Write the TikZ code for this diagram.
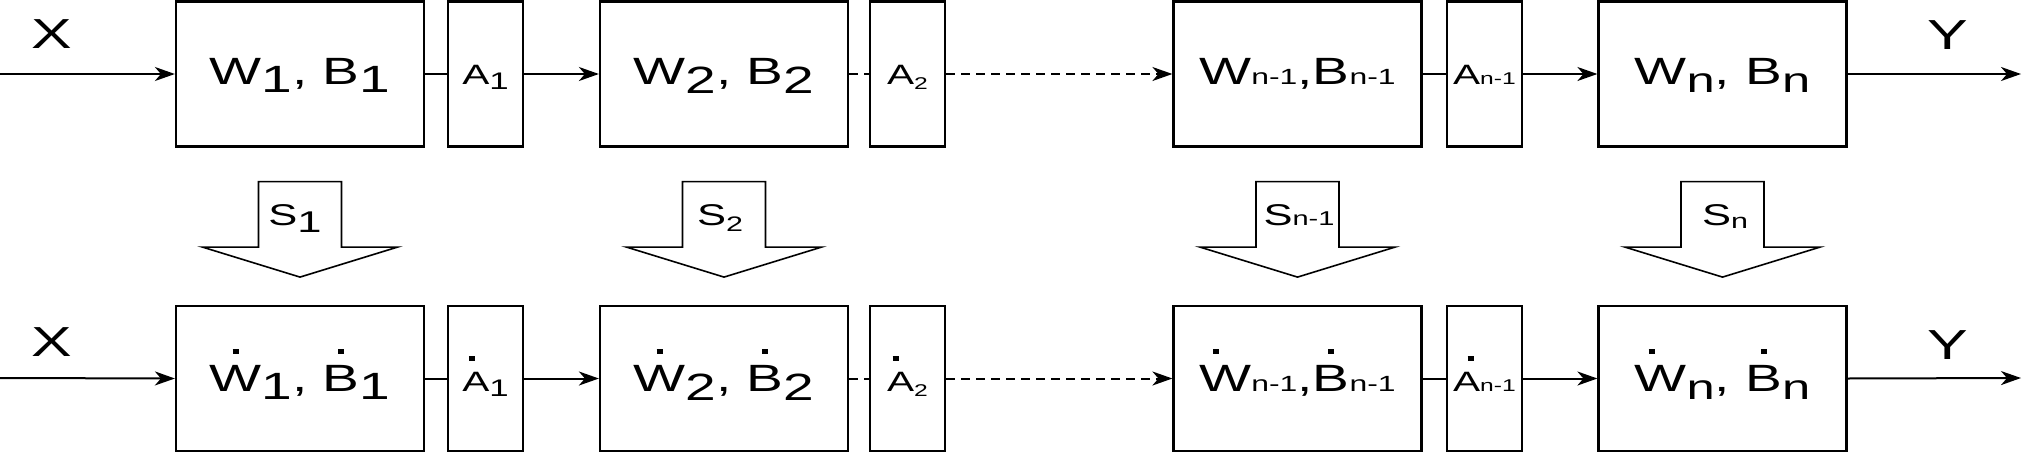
\documentclass[tikz,border=0pt]{standalone}
\usepackage{fontspec}
\setmainfont{Liberation Sans}[FakeStretch=1.45]
\usetikzlibrary{arrows.meta,calc}

\newcommand\lsub[3]{\raisebox{-#1}{\fontsize{#2}{#2}\selectfont #3}}
\newcommand\dtop[2][0pt]{\leavevmode\vbox{\offinterlineskip\halign{\hfil##\hfil\cr\hbox{\rule{6pt}{5pt}\kern#1}\cr\noalign{\kern11pt}#2\cr}}}

\tikzset{
  wbox/.style={draw, line width=2.2pt, minimum width=248pt, minimum height=145pt,
    inner sep=0pt, text height=20pt, text depth=0pt, fill=white,
    font=\fontsize{38}{40}\selectfont},
  abox/.style={wbox, minimum width=75pt, font=\fontsize{28}{30}\selectfont},
  lowrow/.style={text height=26pt},
  ln/.style={line width=2pt},
  arr/.style={ln, -{Stealth[length=20pt,width=14pt,inset=6pt]}},
  dsh/.style={dash pattern=on 9pt off 6pt},
  bigarrow/.style={draw, line width=1.6pt, fill=white, line join=miter},
  lbl/.style={font=\fontsize{42}{44}\selectfont, inner sep=0pt},
  slbl/.style={font=\fontsize{30}{32}\selectfont, inner sep=0pt, anchor=base},
}

\begin{document}
\begin{tikzpicture}[x=1pt,y=-1pt]
\useasboundingbox (0,0) rectangle (2022,453);

% ---------- top row ----------
\node[wbox] (w1) at (300,74) {W\lsub{8pt}{38}{1}, B\lsub{8pt}{38}{1}};
\node[abox] (a1) at (485.5,74) {A\lsub{5pt}{24}{1}};
\node[wbox] (w2) at (724,74) {W\lsub{9pt}{38}{2}, B\lsub{9pt}{38}{2}};
\node[abox] (a2) at (907.5,74) {A\lsub{5pt}{17}{2}};
\node[wbox] (wm) at (1297.5,74) {W\lsub{0pt}{22}{n-1},B\lsub{0pt}{22}{n-1}};
\node[abox] (am) at (1484.5,74) {A\lsub{0pt}{17}{n-1}};
\node[wbox] (wn) at (1722.5,74) {W\lsub{8pt}{35}{n}, B\lsub{8pt}{35}{n}};

\coordinate (xin) at (0,74);
\coordinate (yout) at (2021,74);
\node[lbl] (xl) at (52,34) {X};
\node[lbl] (yl) at (1948,35) {Y};

\draw[arr] (xin) -- (w1.west);
\draw[ln] (w1.east) -- (a1.west);
\draw[arr] (a1.east) -- (w2.west);
\draw[ln,dsh] (w2.east) -- (a2.west);
\draw[arr,dsh] (a2.east) -- (wm.west);
\draw[ln] (wm.east) -- (am.west);
\draw[arr] (am.east) -- (wn.west);
\draw[arr] (wn.east) -- (yout);

% ---------- big arrows ----------
\foreach \b in {w1,w2,wm,wn}{
  \draw[bigarrow] ($(\b.south)+(-41.5,34)$) -- ++(83,0) -- ++(0,65.5) -- ++(56,0)
     -- ($(\b.south)+(0,129.5)$) -- ($(\b.south)+(-97.5,99.5)$) -- ++(56,0) -- cycle;
}
\node[slbl] (s1) at (295,225) {S\lsub{7pt}{30}{1}};
\node[slbl] (s2) at (720,225) {S\lsub{6pt}{21}{2}};
\node[slbl] (sm) at (1299,225) {S\lsub{0pt}{20}{n-1}};
\node[slbl] (sn) at (1725,225) {S\lsub{3pt}{21}{n}};

% ---------- bottom row ----------
\node[wbox,lowrow] (v1) at (300,378.5) {\dtop{W}\lsub{8pt}{38}{1}, \dtop{B}\lsub{8pt}{38}{1}};
\node[abox,lowrow] (b1) at (485.5,378.5) {\dtop[8pt]{A}\lsub{5pt}{24}{1}};
\node[wbox,lowrow] (v2) at (724,378.5) {\dtop{W}\lsub{9pt}{38}{2}, \dtop{B}\lsub{9pt}{38}{2}};
\node[abox,lowrow] (b2) at (907.5,378.5) {\dtop[10pt]{A}\lsub{5pt}{17}{2}};
\node[wbox,lowrow] (vm) at (1297.5,378.5) {\dtop[18pt]{W}\lsub{0pt}{22}{n-1},\dtop{B}\lsub{0pt}{22}{n-1}};
\node[abox,lowrow] (bm) at (1484.5,378.5) {\dtop[-8pt]{A}\lsub{0pt}{17}{n-1}};
\node[wbox,lowrow] (vn) at (1722.5,378.5) {\dtop[18pt]{W}\lsub{8pt}{35}{n}, \dtop{B}\lsub{8pt}{35}{n}};

\coordinate (xin2) at (0,378);
\coordinate (yout2) at (2021,378);
\node[lbl] (xl2) at (52,342) {X};
\node[lbl] (yl2) at (1948,345) {Y};

\draw[arr] (xin2) -- (v1.west);
\draw[ln] (v1.east) -- (b1.west);
\draw[arr] (b1.east) -- (v2.west);
\draw[ln,dsh] (v2.east) -- (b2.west);
\draw[arr,dsh] (b2.east) -- (vm.west);
\draw[ln] (vm.east) -- (bm.west);
\draw[arr] (bm.east) -- (vn.west);
\draw[arr] (vn.east) -- (yout2);
\end{tikzpicture}
\end{document}
